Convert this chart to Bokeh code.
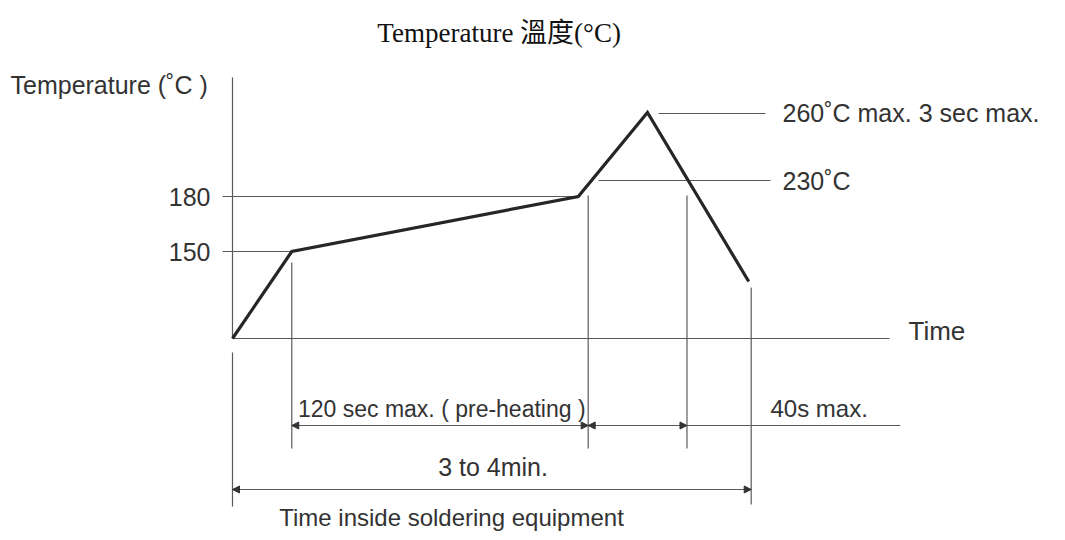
from bokeh.plotting import figure
from bokeh.models import Range1d, ColumnDataSource, Arrow, NormalHead
from bokeh.core.properties import value
from bokeh.embed import file_html
from bokeh.resources import INLINE

# ---- data (schematic reflow profile) ----
# time in seconds, "level" = schematic drawing height of each temperature
profile_t = [0, 24, 140, 168, 209]
profile_level = [0, 87, 142, 226, 57]

temp_ticks = ["150", "180"]
temp_tick_level = [87, 142]
temp_tick_line_end = [24, 140]

preheat_start = 24
preheat_len = 120
peak_window = 40
total_time = 210

peak_label = "260˚C max. 3 sec max."
peak_level = 226
t230_label = "230˚C"
t230_level = 158

title_text = "Temperature  溫度(°C)"
y_label = "Temperature (˚C )"
x_label = "Time"
preheat_label = "120 sec max. ( pre-heating )"
window_label = "40s max."
total_label = "3 to 4min."
bottom_label = "Time inside soldering equipment"

# ---- figure ----
W, H = 1049, 532
PX = 2.47  # px per second
X0 = -232 / PX
X1 = X0 + W / PX
Y1 = 338
Y0 = Y1 - H
p = figure(width=W, height=H, x_range=Range1d(X0, X1), y_range=Range1d(Y0, Y1),
           x_axis_type=None, y_axis_type=None, output_backend="svg",
           toolbar_location=None, min_border=0)
p.grid.visible = False
p.outline_line_color = None
p.background_fill_color = "white"

LC = "#5a5a5a"
TC = "#333333"
SANS = value("Liberation Sans")

preheat_end = preheat_start + preheat_len
window_end = preheat_end + peak_window
dim1 = -87
dim2 = -151

# axes
p.segment(x0=[0, 0], y0=[0, 0], x1=[0, 266], y1=[261, 0], line_color=LC, line_width=1.2)
# temperature guide lines
p.segment(x0=[-4] * len(temp_tick_level), y0=temp_tick_level, x1=temp_tick_line_end,
          y1=temp_tick_level, line_color=LC, line_width=1.2)
# leaders for 260 / 230
p.segment(x0=[172.5, 148.2], y0=[peak_level - 1, t230_level], x1=[215.8, 217.8],
          y1=[peak_level - 1, t230_level], line_color=LC, line_width=1.2)
# vertical extension lines
p.segment(x0=[0, preheat_start, preheat_end, window_end, total_time],
          y0=[-14, 76, 143, 143, 51],
          x1=[0, preheat_start, preheat_end, window_end, total_time],
          y1=[-168, -110, -110, -110, -166], line_color=LC, line_width=1.2)
# dimension lines
p.segment(x0=[preheat_start, 0], y0=[dim1, dim2], x1=[270.4, total_time], y1=[dim1, dim2],
          line_color=LC, line_width=1.2)

# arrowheads
tips = [preheat_start, preheat_end, preheat_end, window_end, 0, total_time]
dirs = [-1, 1, -1, 1, -1, 1]
levels = [dim1, dim1, dim1, dim1, dim2, dim2]
asrc = ColumnDataSource(dict(xs=[t - d * 5 for t, d in zip(tips, dirs)], ys=levels,
                             xe=tips, ye=levels))
p.add_layout(Arrow(end=NormalHead(size=7, fill_color="#333333", line_color="#333333", line_width=1),
                   x_start="xs", y_start="ys", x_end="xe", y_end="ye", source=asrc,
                   line_alpha=0))

# profile
p.line(profile_t, profile_level, line_color="#262626", line_width=3.2, line_join="miter")

# texts
p.text(x=[X0 + 10 / PX], y=[240], text=[y_label], text_font=SANS, text_font_size="25px",
       text_color=TC, text_baseline="bottom", text_align="left")
p.text(x=[-22 / PX] * 2, y=temp_tick_level, text=temp_ticks, text_font=SANS,
       text_font_size="25px", text_color=TC, text_baseline="middle", text_align="right")
p.text(x=[550 / PX, 550 / PX], y=[peak_level, t230_level], text=[peak_label, t230_label],
       text_font=SANS, text_font_size="25px", text_color=TC, text_baseline="middle",
       text_align="left")
p.text(x=[676 / PX], y=[8], text=[x_label], text_font=SANS, text_font_size="26px",
       text_color=TC, text_baseline="middle", text_align="left")
p.text(x=[preheat_start + 2.5], y=[-70], text=[preheat_label],
       text_font=SANS, text_font_size="23px", text_color=TC, text_baseline="middle",
       text_align="left")
p.text(x=[538 / PX], y=[-70], text=[window_label],
       text_font=SANS, text_font_size="24px", text_color=TC, text_baseline="middle",
       text_align="left")
p.text(x=[total_time / 2 + 0.5], y=[-128], text=[total_label], text_font=SANS,
       text_font_size="25px", text_color=TC, text_baseline="middle", text_align="center")
p.text(x=[219 / PX], y=[-179], text=[bottom_label], text_font=SANS,
       text_font_size="24px", text_color=TC, text_baseline="middle", text_align="center")
p.text(x=[270 / PX], y=[306], text=[title_text],
       text_font=value("Liberation Serif, Noto Sans CJK TC"), text_font_size="27px",
       text_color="#111111", text_baseline="middle", text_align="center")

open("out.html", "w").write(file_html(p, INLINE))
